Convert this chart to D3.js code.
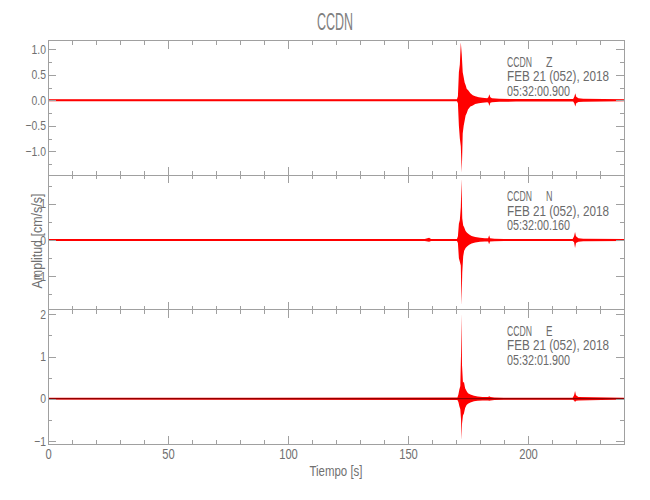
<!DOCTYPE html>
<html><head><meta charset="utf-8">
<script src="https://cdn.jsdelivr.net/npm/d3@7"></script>
<style>
body{margin:0;background:#fff}
text{font-family:"Liberation Sans",Arial,sans-serif}
</style>
</head><body>
<svg id="c" width="650" height="500"></svg>
<script>
// ---- data ----
const titleText = "CCDN";
const station = "CCDN";
const channels = ["Z", "N", "E"];
const dateLabel = "FEB 21 (052), 2018";
const startTimes = ["05:32:00.900", "05:32:00.160", "05:32:01.900"];
const xLabel = "Tiempo [s]";
const yLabel = "Amplitud [cm/s/s]";
const xMajorTicks = [0, 50, 100, 150, 200];
const xMinorTicks = [10,20,30,40,60,70,80,90,110,120,130,140,160,170,180,190,210,220,230,240];
const yMajorZ = [-1.0, -0.5, 0.0, 0.5, 1.0];
const yMinorZ = [-1.25, -0.75, -0.25, 0.25, 0.75];
const yMajorN = [-1, 0, 1];
const yMinorN = [-1.5, -0.5, 0.5, 1.5];
const yMajorE = [-1, 0, 1, 2];
const yMinorE = [-0.5, 0.5, 1.5];

// envelope of each trace (time s, upper, lower)
const zTime = [0, 100, 170.4, 170.8, 171.2, 171.6, 172.0, 172.4, 172.8, 173.2, 173.6, 174.0, 174.5, 175.0, 176.0, 177.0, 178.0, 179.5, 181.0, 183.0, 183.5, 183.9, 184.3, 185.0, 188, 195, 218.8, 219.3, 219.7, 220.1, 221, 223, 240];
const zHigh = [0.02, 0.02, 0.02, 0.08, 0.55, 0.7, 1.14, 0.9, 0.55, 0.45, 0.35, 0.3, 0.22, 0.2, 0.14, 0.1, 0.08, 0.06, 0.05, 0.04, 0.06, 0.12, 0.06, 0.04, 0.03, 0.025, 0.025, 0.07, 0.14, 0.07, 0.04, 0.03, 0.02];
const zLow  = [-0.02, -0.02, -0.02, -0.06, -0.5, -0.75, -0.9, -1.42, -0.65, -0.5, -0.4, -0.3, -0.25, -0.18, -0.12, -0.1, -0.07, -0.06, -0.05, -0.04, -0.05, -0.11, -0.05, -0.04, -0.03, -0.025, -0.025, -0.06, -0.12, -0.06, -0.035, -0.03, -0.02];

const nTime = [0, 157, 158.8, 159.6, 170.4, 170.8, 171.2, 171.6, 172.0, 172.3, 172.6, 173.0, 173.4, 174.0, 174.6, 175.5, 176.5, 178, 180, 182, 183.4, 183.8, 184.2, 186, 190, 218.6, 219.2, 219.6, 220.0, 221, 223, 240];
const nHigh = [0.025, 0.025, 0.06, 0.025, 0.03, 0.1, 0.45, 0.55, 0.9, 1.69, 0.6, 0.4, 0.35, 0.25, 0.2, 0.15, 0.11, 0.08, 0.06, 0.05, 0.05, 0.13, 0.05, 0.035, 0.03, 0.03, 0.1, 0.22, 0.1, 0.05, 0.035, 0.025];
const nLow  = [-0.025, -0.025, -0.05, -0.025, -0.03, -0.08, -0.5, -0.6, -0.7, -1.8, -0.9, -0.45, -0.3, -0.22, -0.18, -0.13, -0.1, -0.07, -0.05, -0.045, -0.04, -0.12, -0.04, -0.035, -0.03, -0.03, -0.06, -0.22, -0.08, -0.05, -0.035, -0.025];

const eTime = [0, 170.6, 171.0, 171.4, 171.8, 172.1, 172.3, 172.5, 172.9, 173.3, 173.8, 174.4, 175, 176, 177.5, 179, 181, 183.4, 183.8, 184.4, 186, 190, 218.6, 219.2, 219.6, 220.0, 221, 240];
const eHigh = [0.02, 0.03, 0.1, 0.22, 0.3, 1.08, 2.02, 0.8, 0.38, 0.4, 0.25, 0.18, 0.13, 0.1, 0.07, 0.05, 0.04, 0.04, 0.06, 0.04, 0.03, 0.025, 0.025, 0.08, 0.18, 0.08, 0.04, 0.02];
const eLow  = [-0.02, -0.03, -0.08, -0.18, -0.25, -0.5, -0.98, -0.6, -0.4, -0.35, -0.22, -0.15, -0.12, -0.09, -0.06, -0.05, -0.04, -0.04, -0.05, -0.04, -0.03, -0.025, -0.025, -0.04, -0.08, -0.05, -0.04, -0.02];

// ---- layout ----
const svg = d3.select("#c");
const left = 48, right = 624;
const axisColor = "#a0a0a0", textColor = "#707070";
const x = d3.scaleLinear().domain([0, 240]).range([left, right]);

// condense a text horizontally (the original uses a narrow stroke font)
function squeeze(sel, f) {
  sel.each(function () {
    const w = this.getComputedTextLength();
    if (w > 0) {
      this.setAttribute("textLength", w * f);
      this.setAttribute("lengthAdjust", "spacingAndGlyphs");
    }
  });
}
function fitTo(sel, width) {
  sel.attr("textLength", width).attr("lengthAdjust", "spacingAndGlyphs");
}

const panels = [
  {ch: channels[0], start: startTimes[0], t: zTime, hi: zHigh, lo: zLow, top: 40.5, bottom: 175, domain: [-1.465, 1.173], major: yMajorZ, minor: yMinorZ, fmt: d3.format(".1f")},
  {ch: channels[1], start: startTimes[1], t: nTime, hi: nHigh, lo: nLow, top: 175, bottom: 309.5, domain: [-1.915, 1.79], major: yMajorN, minor: yMinorN, fmt: d3.format("d")},
  {ch: channels[2], start: startTimes[2], t: eTime, hi: eHigh, lo: eLow, top: 309.5, bottom: 444, domain: [-1.073, 2.114], major: yMajorE, minor: yMinorE, fmt: d3.format("d"), zeroLine: true}
];

function styleAxis(g, fs) {
  g.selectAll("path.domain").remove();
  g.selectAll("line").attr("stroke", axisColor).attr("shape-rendering", "crispEdges");
  g.selectAll("text").attr("fill", textColor).attr("font-size", fs || 13)
    .attr("font-family", "'Liberation Sans',Arial,sans-serif");
  squeeze(g.selectAll("text"), 0.8);
}

panels.forEach((p, i) => {
  const y = d3.scaleLinear().domain(p.domain).range([p.bottom, p.top]);
  const g = svg.append("g");
  const clipId = "clip" + i;
  svg.append("clipPath").attr("id", clipId).append("rect")
    .attr("x", left).attr("y", p.top).attr("width", right - left).attr("height", p.bottom - p.top);

  // trace
  const tr = g.append("g").attr("clip-path", `url(#${clipId})`);
  tr.append("line").attr("x1", x(0)).attr("x2", x(240)).attr("y1", y(0)).attr("y2", y(0))
    .attr("stroke", "#ff0000").attr("stroke-width", 1);
  const area = d3.area()
    .x((d, k) => x(p.t[k]))
    .y0((d, k) => y(p.lo[k]))
    .y1((d, k) => y(p.hi[k]));
  tr.append("path").datum(p.t).attr("d", area).attr("fill", "#ff0000");
  if (p.zeroLine) {
    tr.append("line").attr("x1", x(0)).attr("x2", x(240)).attr("y1", y(0)).attr("y2", y(0))
      .attr("stroke", "#3a0000").attr("stroke-width", 1).attr("opacity", 0.7);
  }

  // frame
  g.append("rect").attr("x", left).attr("y", p.top).attr("width", right - left).attr("height", p.bottom - p.top)
    .attr("fill", "none").attr("stroke", axisColor).attr("shape-rendering", "crispEdges");

  // left axis (labels) + minor
  const la = g.append("g").attr("transform", `translate(${left},0)`)
    .call(d3.axisLeft(y).tickValues(p.major).tickFormat(p.fmt).tickSizeInner(-8).tickSizeOuter(0).tickPadding(2));
  styleAxis(la, 13);
  const lm = g.append("g").attr("transform", `translate(${left},0)`)
    .call(d3.axisLeft(y).tickValues(p.minor).tickFormat("").tickSizeInner(-4).tickSizeOuter(0));
  styleAxis(lm);
  // right axis
  const ra = g.append("g").attr("transform", `translate(${right},0)`)
    .call(d3.axisRight(y).tickValues(p.major).tickFormat("").tickSizeInner(-8).tickSizeOuter(0));
  styleAxis(ra);
  const rm = g.append("g").attr("transform", `translate(${right},0)`)
    .call(d3.axisRight(y).tickValues(p.minor).tickFormat("").tickSizeInner(-4).tickSizeOuter(0));
  styleAxis(rm);
  // top / bottom x ticks
  [[p.top, d3.axisTop], [p.bottom, d3.axisBottom]].forEach(([yy, fn], j) => {
    const isLast = (i === panels.length - 1) && j === 1;
    const a = g.append("g").attr("transform", `translate(0,${yy})`)
      .call(fn(x).tickValues(xMajorTicks).tickFormat(isLast ? d3.format("d") : "").tickSizeInner(-8).tickSizeOuter(0).tickPadding(5));
    styleAxis(a, 14);
    const m = g.append("g").attr("transform", `translate(0,${yy})`)
      .call(fn(x).tickValues(xMinorTicks).tickFormat("").tickSizeInner(-4).tickSizeOuter(0));
    styleAxis(m);
  });

  // annotation
  const ty = p.top + 26;
  const ann = g.append("g").attr("fill", "#6a6a6a").attr("font-size", 14);
  fitTo(ann.append("text").attr("x", 507).attr("y", ty).text(station), 25);
  fitTo(ann.append("text").attr("x", 546).attr("y", ty).text(p.ch), 6.5);
  fitTo(ann.append("text").attr("x", 507).attr("y", ty + 14.5).text(dateLabel), 102);
  fitTo(ann.append("text").attr("x", 507).attr("y", ty + 29).text(p.start), 63);
});

// title
fitTo(svg.append("text").attr("x", 335).attr("y", 30)
  .attr("text-anchor", "middle").attr("font-size", 23).attr("fill", "#808080").text(titleText), 36);
// x label
fitTo(svg.append("text").attr("x", (left + right) / 2).attr("y", 476).attr("text-anchor", "middle")
  .attr("font-size", 15).attr("fill", textColor).text(xLabel), 53);
// y label
fitTo(svg.append("text").attr("transform", "translate(42,241) rotate(-90)").attr("text-anchor", "middle")
  .attr("font-size", 14).attr("fill", textColor).text(yLabel), 95);
</script>
</body></html>
